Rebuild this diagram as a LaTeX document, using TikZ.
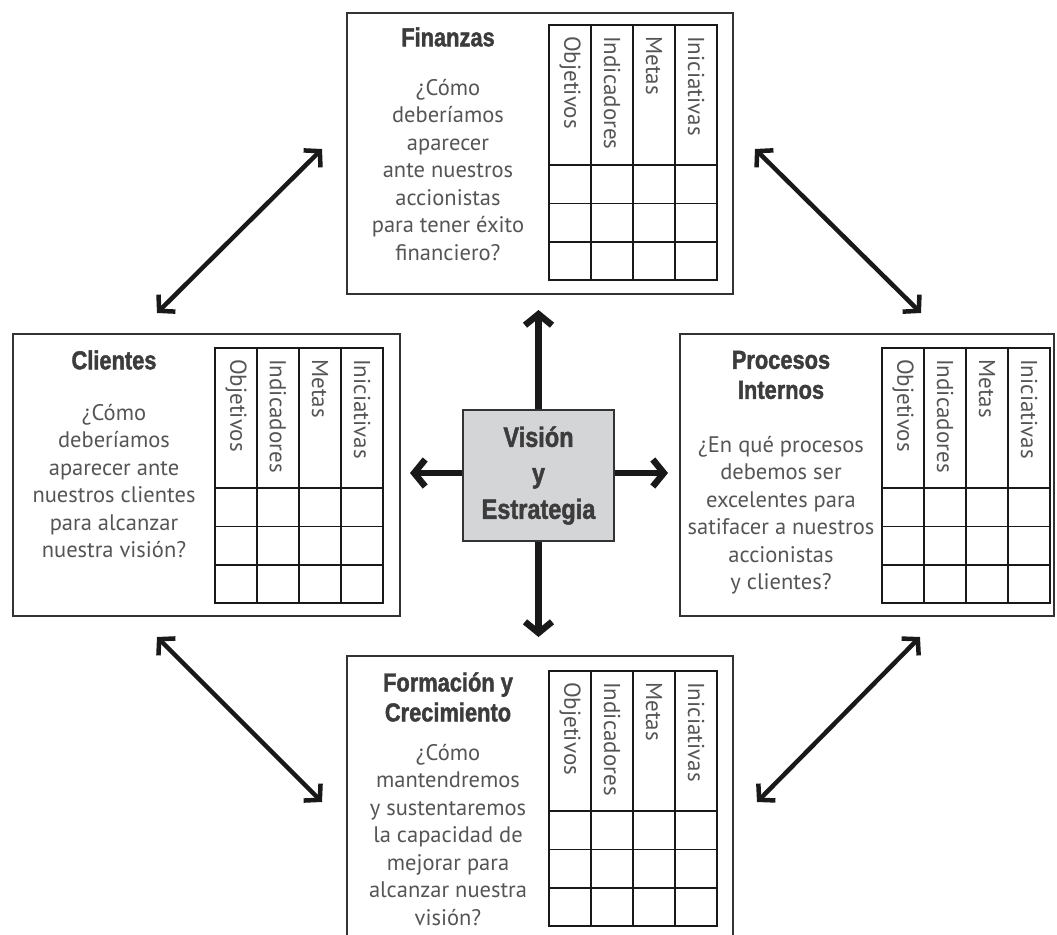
\documentclass[tikz,border=0pt]{standalone}
\usepackage{fontspec}
\setmainfont{PT Sans}
\newfontfamily\titulofont[FakeStretch=0.84,FakeBold=1.6]{Liberation Sans Bold}
\usetikzlibrary{arrows.meta}
\definecolor{gristexto}{RGB}{85,85,85}
\definecolor{gristitulo}{RGB}{60,60,60}
\definecolor{grisfondo}{RGB}{212,213,215}

% tabla de objetivos: #1 nombre, #2 x, #3 y (esquina superior izquierda)
\newcommand{\tabla}[3]{%
  \draw[rejilla] (#2,#3) rectangle ++(168,255);
  \foreach \c in {1,2,3} \draw[rejilla] (#2+42*\c,#3) -- ++(0,255);
  \foreach \r in {0,1,2} \draw[rejilla] (#2,#3+140+38.5*\r) -- ++(168,0);
  \foreach \lbl [count=\c from 0] in {Objetivos,Indicadores,Metas,Iniciativas}
    \node[cabecera] (#1-\c) at (#2+21+42*\c,#3+11) {\lbl};
}

\begin{document}
\begin{tikzpicture}[x=1pt, y=-1pt,
  panel/.style={draw=black!80, line width=1.6pt, rectangle, inner sep=0pt},
  rejilla/.style={line width=1.8pt, black!90},
  cabecera/.style={rotate=-90, anchor=west, inner sep=0pt, font=\fontsize{23}{23}\selectfont, text=gristexto},
  titulo/.style={align=center, font=\titulofont\fontsize{26}{30}\selectfont, text=gristitulo},
  pregunta/.style={align=center, font=\fontsize{22.5}{27.5}\selectfont, text=gristexto},
  flecha/.style={line width=6.5pt, black!90, -{Straight Barb[length=11pt,width=27pt]}},
  doble/.style={line width=4.5pt, black!90, {Straight Barb[length=11pt,width=24pt]}-{Straight Barb[length=11pt,width=24pt]}}]

    \useasboundingbox (0,0) rectangle (1057,934);
    \clip (0,0) rectangle (1057,934);

    % Perspectivas
    \node[panel, minimum width=386pt, minimum height=281pt] (fin) at (540,153.5) {};
    \node[panel, minimum width=387pt, minimum height=282pt] (cli) at (206.5,475) {};
    \node[panel, minimum width=374pt, minimum height=282pt] (pro) at (867,475) {};
    \node[panel, minimum width=386pt, minimum height=289pt] (for) at (540,800.5) {};

    \tabla{tf}{549}{25}
    \tabla{tc}{215}{348}
    \tabla{tp}{882}{348}
    \tabla{tr}{549}{671}

    % Finanzas
    \node[titulo] (finT) at (448,37) {Finanzas};
    \node[pregunta] (finP) at (448,170) {¿Cómo\\deberíamos\\aparecer\\ante nuestros\\accionistas\\para tener éxito\\financiero?};

    % Clientes
    \node[titulo] (cliT) at (114,360) {Clientes};
    \node[pregunta] (cliP) at (114,481) {¿Cómo\\deberíamos\\aparecer ante\\nuestros clientes\\para alcanzar\\nuestra visión?};

    % Procesos internos
    \node[titulo] (proT) at (781,375) {Procesos\\Internos};
    \node[pregunta] (proP) at (781,515) {¿En qué procesos\\debemos ser\\excelentes para\\satifacer a nuestros\\accionistas\\y clientes?};

    % Formación y crecimiento
    \node[titulo] (forT) at (448,697) {Formación y\\Crecimiento};
    \node[pregunta] (forP) at (448,835) {¿Cómo\\mantendremos\\y sustentaremos\\la capacidad de\\mejorar para\\alcanzar nuestra\\visión?};

    % Centro
    \node[panel, fill=grisfondo, minimum width=151pt, minimum height=131pt, align=center,
          font=\titulofont\fontsize{28}{36}\selectfont, text=gristitulo] (vis) at (538.5,475.5) {Visión\\y\\Estrategia};

    \coordinate (arr) at (538.5,310);
    \coordinate (aba) at (538.5,637);
    \coordinate (izq) at (410,473);
    \coordinate (der) at (668,473);

    \draw[flecha] (vis.north) -- (arr);
    \draw[flecha] (vis.south) -- (aba);
    \draw[flecha] (vis.west |- izq) -- (izq);
    \draw[flecha] (vis.east |- der) -- (der);

    % Diagonales
    \coordinate (d1a) at (157,313);
    \coordinate (d1b) at (322,149);
    \coordinate (d2a) at (755,149);
    \coordinate (d2b) at (921,313);
    \coordinate (d3a) at (157,637);
    \coordinate (d3b) at (322,802);
    \coordinate (d4a) at (920,637);
    \coordinate (d4b) at (757,802);

    \draw[doble] (d1a) -- (d1b);
    \draw[doble] (d2a) -- (d2b);
    \draw[doble] (d3a) -- (d3b);
    \draw[doble] (d4a) -- (d4b);

\end{tikzpicture}
\end{document}
